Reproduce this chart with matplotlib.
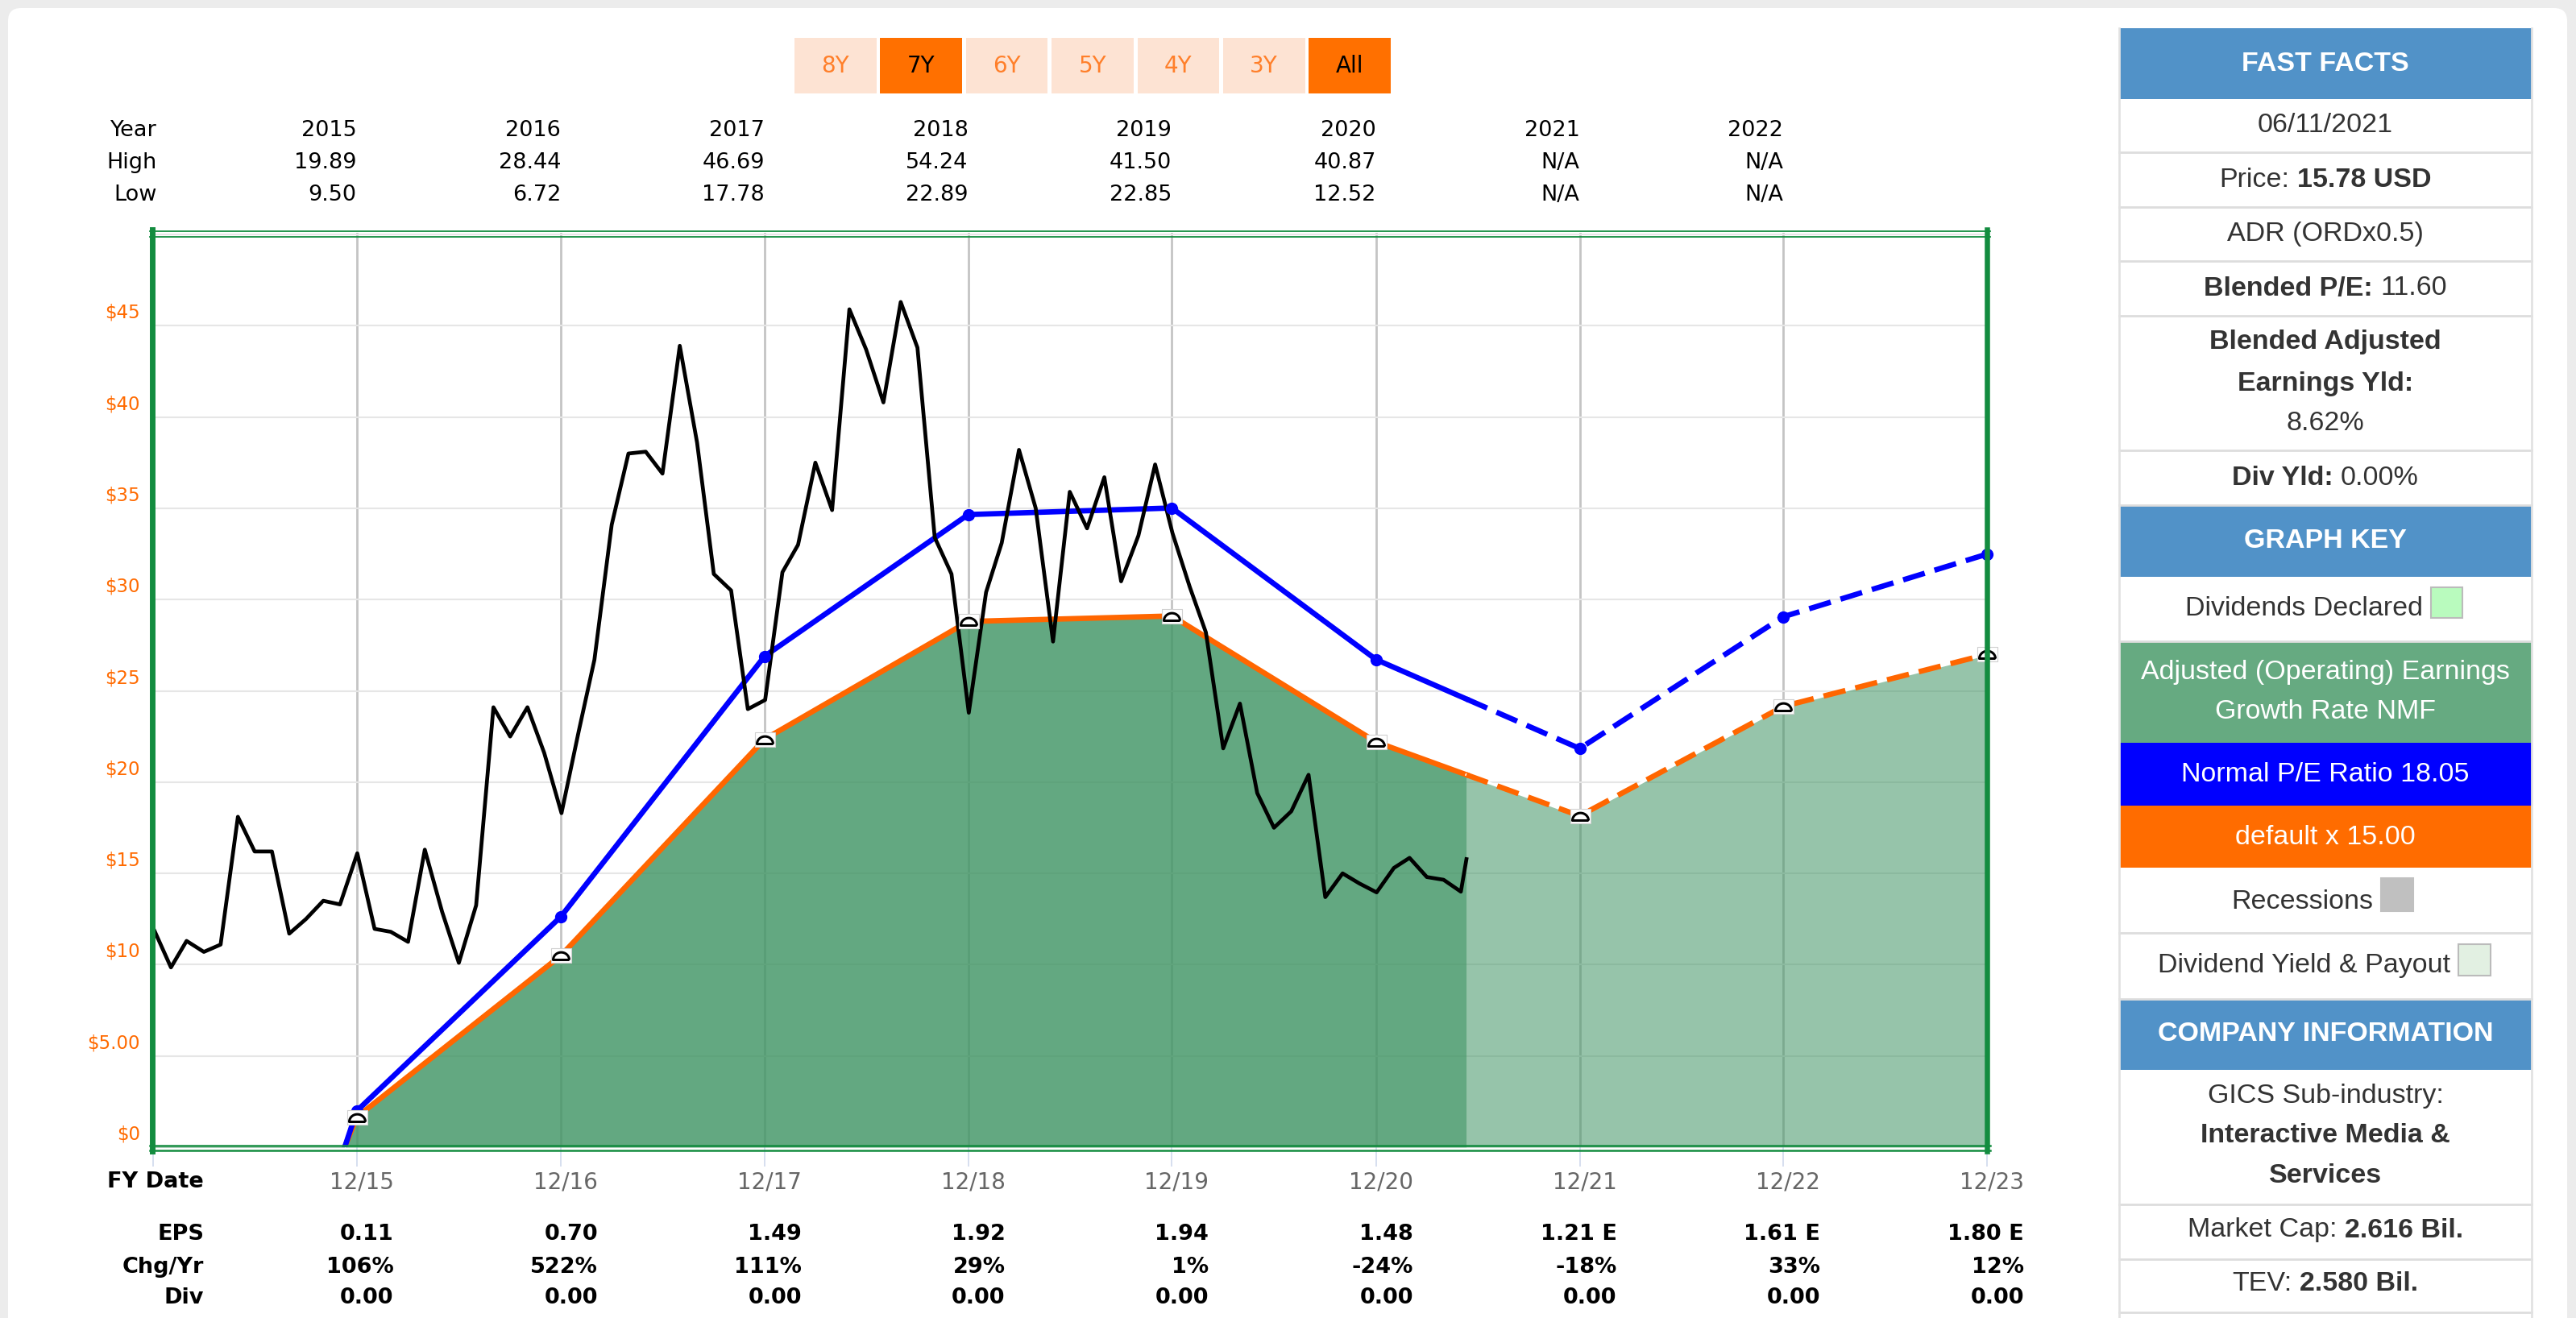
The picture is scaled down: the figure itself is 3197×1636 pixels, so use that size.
import numpy as np
import pandas as pd
import matplotlib
matplotlib.use("Agg")
import matplotlib.pyplot as plt
import matplotlib.dates as mdates
import matplotlib.transforms as mtransforms
from matplotlib.patches import Rectangle, FancyBboxPatch
from matplotlib.path import Path

plt.rcParams['font.family'] = ['DejaVu Sans']

W, H = 3197, 1636

# fiscal year ends (12/14 is the left edge of the plot)
fy_ends = ['2014-12-31', '2015-12-31', '2016-12-31', '2017-12-31', '2018-12-31',
           '2019-12-31', '2020-12-31', '2021-12-31', '2022-12-31', '2023-12-31']
fy_labels = ['12/15', '12/16', '12/17', '12/18', '12/19', '12/20', '12/21', '12/22', '12/23']
# FY14 eps is not printed, it is read from where the lines leave $0
eps = [-1.75, 0.11, 0.70, 1.49, 1.92, 1.94, 1.48, 1.21, 1.61, 1.80]
eps_text = ['0.11', '0.70', '1.49', '1.92', '1.94', '1.48', '1.21 E', '1.61 E', '1.80 E']
chg_text = ['106%', '522%', '111%', '29%', '1%', '-24%', '-18%', '33%', '12%']
div_text = ['0.00'] * 9
normal_pe = 18.05
default_pe = 15.00
today = '2021-06-11'

# monthly closes from Jan 2015, then today's price
price_start = '2015-01-01'
price_monthly = [11.96, 9.85, 11.3, 10.7, 11.1, 18.1, 16.2, 16.2, 11.7, 12.5, 13.5, 13.3,
                 16.1, 11.96, 11.8, 11.25, 16.3, 12.9, 10.1, 13.25, 24.1, 22.5, 24.1, 21.6,
                 18.3, 22.8, 26.7, 34.1, 38.0, 38.1, 36.9, 43.9, 38.6, 31.4, 30.5, 24.0,
                 24.5, 31.5, 33.0, 37.5, 34.9, 45.9, 43.7, 40.8, 46.3, 43.8, 33.4, 31.4,
                 23.8, 30.4, 33.1, 38.2, 35.0, 27.7, 35.9, 33.9, 36.7, 31.0, 33.5, 37.4,
                 33.65, 30.7, 28.2, 21.85, 24.3, 19.4, 17.5, 18.4, 20.4, 13.7, 15.0, 14.45,
                 13.96, 15.3, 15.85, 14.8, 14.65, 14.0]
price_today = 15.78

table_years = ['2015', '2016', '2017', '2018', '2019', '2020', '2021', '2022']
table_high = ['19.89', '28.44', '46.69', '54.24', '41.50', '40.87', 'N/A', 'N/A']
table_low = ['9.50', '6.72', '17.78', '22.89', '22.85', '12.52', 'N/A', 'N/A']

y_ticks = [0, 5, 10, 15, 20, 25, 30, 35, 40, 45, 50]
y_tick_text = ['$0', '$5.00', '$10', '$15', '$20', '$25', '$30', '$35', '$40', '$45', '']

range_buttons = ['8Y', '7Y', '6Y', '5Y', '4Y', '3Y', 'All']
range_active = ['7Y', 'All']

GREEN_FILL = '#419565'
ORANGE = '#ff6600'
BLUE = '#0000ff'
BORDER = '#138c3f'
HEAD = '#5192c8'
KEY_GREEN = '#66aa81'
TXT = '#333333'
PANEL_FONT = ['Liberation Sans', 'DejaVu Sans']


def px_rect(x0, y0, x1, y1):
    return [x0 / W, 1 - y1 / H, (x1 - x0) / W, (y1 - y0) / H]


def pixel_axes(z):
    a = fig.add_axes([0, 0, 1, 1], zorder=z)
    a.set_xlim(0, W)
    a.set_ylim(H, 0)
    a.axis('off')
    a.patch.set_alpha(0)
    return a


fig = plt.figure(figsize=(W / 100, H / 100), dpi=100, facecolor='#ececec')
bg = pixel_axes(0)
bg.add_patch(FancyBboxPatch((10, 10), 3176, 1700, boxstyle='round,pad=0,rounding_size=16',
                            fc='white', ec='none'))

ax = fig.add_axes(px_rect(190, 289, 2466, 1424), zorder=1)
ax.set_facecolor('none')
fg = pixel_axes(2)

fx = mdates.date2num(pd.to_datetime(fy_ends))
sx = mdates.date2num(pd.Timestamp(today))
orange = np.array(eps) * default_pe
blue = np.array(eps) * normal_pe

past = fx < sx
x_past = np.append(fx[past], sx)
x_fut = np.insert(fx[~past], 0, sx)
o_past = np.append(orange[past], np.interp(sx, fx, orange))
o_fut = np.insert(orange[~past], 0, np.interp(sx, fx, orange))
b_past = np.append(blue[past], np.interp(sx, fx, blue))
b_fut = np.insert(blue[~past], 0, np.interp(sx, fx, blue))

ax.fill_between(x_past, 0, o_past, color=GREEN_FILL, alpha=0.82, lw=0, zorder=1)
ax.fill_between(x_fut, 0, o_fut, color=GREEN_FILL, alpha=0.55, lw=0, zorder=1)

ax.plot(x_past, o_past, color=ORANGE, lw=4.8, zorder=3)
ax.plot(x_fut, o_fut, color='white', lw=2.2, zorder=3)
ax.plot(x_fut, o_fut, color=ORANGE, lw=4.8, dashes=(4.2, 1.9), zorder=3)
ax.plot(x_past, b_past, color=BLUE, lw=4.8, zorder=4)
ax.plot(x_fut, b_fut, color=BLUE, lw=4.8, dashes=(4.2, 1.9), zorder=4)

price_x = mdates.date2num(pd.date_range(price_start, periods=len(price_monthly), freq='MS'))
price_x = np.append(price_x, sx)
price_y = np.append(price_monthly, price_today)
ax.plot(price_x, price_y, color='black', lw=3.4, zorder=5)

ax.plot(fx[1:], blue[1:], 'o', color=BLUE, ms=10, zorder=6, clip_on=False)

# earnings markers: white tag with a small dome
tag = Path([(-1, -0.7), (1, -0.7), (1, 0.7), (-1, 0.7), (-1, -0.7)],
           [Path.MOVETO, Path.LINETO, Path.LINETO, Path.LINETO, Path.CLOSEPOLY])
t = np.linspace(0, np.pi, 24)
dome_v = [(0.8 * np.cos(a), -0.4 + 0.75 * np.sin(a)) for a in t] + [(0.8, -0.4)]
dome = Path(dome_v, [Path.MOVETO] + [Path.LINETO] * (len(dome_v) - 1))
ax.plot(fx[1:], orange[1:], ls='none', marker=tag, ms=18, mfc='white', mec='#d0d0d0',
        mew=0.8, zorder=7, clip_on=False)
ax.plot(fx[1:], orange[1:], ls='none', marker=dome, ms=14.4, mfc='white', mec='black',
        mew=2.2, zorder=8, clip_on=False)

ax.set_xlim(fx[0], fx[-1])
ax.set_ylim(0, 50.09)
ax.set_xticks(fx)
ax.set_xticklabels([])
ax.set_yticks(y_ticks)
ax.set_yticklabels([])
ax.tick_params(axis='x', length=17, width=1.1, color='#ccd6eb')
ax.tick_params(axis='y', length=0)
ax.grid(axis='y', color='#e6e6e6', lw=1.5)
ax.grid(axis='x', color='#c4c4c4', lw=2)
ax.set_axisbelow(True)
for s in ax.spines.values():
    s.set_visible(False)

yl_trans = mtransforms.offset_copy(ax.get_yaxis_transform(), fig=fig, x=-16, y=16, units='dots')
for v, s in zip(y_ticks, y_tick_text):
    ax.text(0, v, s, transform=yl_trans, ha='right', va='center', fontsize=16.5, color='#ff6a00')

# plot frame
fg.plot([186, 2470], [286.5, 286.5], color=BORDER, lw=1.3)
fg.plot([186, 2470], [293.5, 293.5], color=BORDER, lw=1.3)
fg.plot([186, 2470], [1421.5, 1421.5], color=BORDER, lw=1.8)
fg.plot([186, 2470], [1427.5, 1427.5], color=BORDER, lw=1.8)
fg.plot([188.5, 188.5], [285, 1429], color=BORDER, lw=5)
fg.plot([2465.7, 2465.7], [285, 1429], color=BORDER, lw=4.7)

# rows above and below the plot, columns follow the x scale
col = mtransforms.blended_transform_factory(ax.transData, fg.transData)
col_r = mtransforms.offset_copy(col, fig=fig, x=46, units='dots')

for lab, y in zip(['Year', 'High', 'Low'], [162, 202, 242]):
    fg.text(195, y, lab, ha='right', va='center', fontsize=19.5)
for i in range(len(table_years)):
    for txt, y in zip([table_years[i], table_high[i], table_low[i]], [162, 202, 242]):
        fg.text(fx[i + 1], y, txt, transform=col, ha='right', va='center', fontsize=19.5)

fg.text(253, 1467, 'FY Date', ha='right', va='center', fontsize=19.5, fontweight='bold')
for i, lab in enumerate(fy_labels):
    fg.text(fx[i + 1], 1467, lab, transform=col_r, ha='right', va='center', fontsize=20,
            color='#666666')
for lab, vals, y in zip(['EPS', 'Chg/Yr', 'Div'], [eps_text, chg_text, div_text],
                        [1532, 1573, 1611]):
    fg.text(253, y, lab, ha='right', va='center', fontsize=19.5, fontweight='bold')
    for i, v in enumerate(vals):
        fg.text(fx[i + 1], y, v, transform=col_r, ha='right', va='center', fontsize=19.5,
                fontweight='bold')

# range buttons
for i, lab in enumerate(range_buttons):
    x0 = 986 + i * 106.4
    on = lab in range_active
    fg.add_patch(Rectangle((x0, 47), 101.5, 69, fc='#ff7000' if on else '#fde3d3', ec='none'))
    fg.text(x0 + 50.7, 82, lab, ha='center', va='center', fontsize=20,
            color='black' if on else '#ff7f2a')

# right side panel
P0, P1 = 2630, 3142
PC = (P0 + P1) / 2
renderer = fig.canvas.get_renderer()


def mixed_line(cy, parts, size=24.5, color=TXT):
    texts = [fg.text(0, cy, s, ha='left', va='center', fontsize=size, fontweight=w,
                     color=color, family=PANEL_FONT) for s, w in parts]
    widths = [tx.get_window_extent(renderer).width for tx in texts]
    gap = size * 100 / 72 * 0.278
    x = PC - (sum(widths) + gap * (len(texts) - 1)) / 2
    for tx, w in zip(texts, widths):
        tx.set_x(x)
        x += w + gap


rows = [
    (35, 123, HEAD, [(79, [('FAST FACTS', 'bold')])], 'white'),
    (123, 189, None, [(155, [('06/11/2021', 'normal')])], TXT),
    (189, 257, None, [(223, [('Price:', 'normal'), ('15.78 USD', 'bold')])], TXT),
    (257, 324, None, [(290, [('ADR (ORDx0.5)', 'normal')])], TXT),
    (324, 392, None, [(358, [('Blended P/E:', 'bold'), ('11.60', 'normal')])], TXT),
    (392, 559, None, [(425, [('Blended Adjusted', 'bold')]), (476, [('Earnings Yld:', 'bold')]),
                      (526, [('8.62%', 'normal')])], TXT),
    (559, 627, None, [(593, [('Div Yld:', 'bold'), ('0.00%', 'normal')])], TXT),
    (627, 716, HEAD, [(671, [('GRAPH KEY', 'bold')])], 'white'),
    (716, 796, None, [], TXT),
    (796, 922, KEY_GREEN, [(835, [('Adjusted (Operating) Earnings', 'normal')]),
                           (884, [('Growth Rate NMF', 'normal')])], 'white'),
    (922, 1000, BLUE, [(961, [('Normal P/E Ratio 18.05', 'normal')])], 'white'),
    (1000, 1077, '#ff6c00', [(1039, [('default x 15.00', 'normal')])], 'white'),
    (1077, 1158, None, [], TXT),
    (1158, 1240, None, [], TXT),
    (1240, 1328, HEAD, [(1284, [('COMPANY INFORMATION', 'bold')])], 'white'),
    (1328, 1495, None, [(1360, [('GICS Sub-industry:', 'normal')]),
                        (1409, [('Interactive Media &', 'bold')]),
                        (1459, [('Services', 'bold')])], TXT),
    (1495, 1563, None, [(1527, [('Market Cap:', 'normal'), ('2.616 Bil.', 'bold')])], TXT),
    (1563, 1629, None, [(1594, [('TEV:', 'normal'), ('2.580 Bil.', 'bold')])], TXT),
]
for y0, y1, fc, lines, tc in rows:
    if fc is not None:
        fg.add_patch(Rectangle((P0, y0), P1 - P0, y1 - y0, fc=fc, ec='none'))
    else:
        fg.plot([P0, P1], [y1, y1], color='#dddddd', lw=2)
    for cy, parts in lines:
        mixed_line(cy, parts, color=tc)

fg.plot([P0, P0], [35, H], color='#e2e2e2', lw=2)
fg.plot([P1, P1], [35, H], color='#e2e2e2', lw=2)

# key rows with a swatch after the text
swatches = [('Dividends Declared', 756, 3017, 729, 39, 38, '#b9fbbe', '#bbbbbb'),
            ('Recessions', 1119, 2955, 1090, 40, 41, '#c0c0c0', '#c0c0c0'),
            ('Dividend Yield & Payout', 1199, 3051, 1172, 40, 39, '#e2f0e2', '#bbbbbb')]
for lab, cy, sx0, sy0, sw, sh, sfc, sec in swatches:
    fg.text(sx0 - 10, cy, lab, ha='right', va='center', fontsize=24.5, color=TXT,
            family=PANEL_FONT)
    fg.add_patch(Rectangle((sx0, sy0), sw, sh, fc=sfc, ec=sec, lw=1.5))

fig.savefig('out.png', dpi=100, facecolor=fig.get_facecolor())
